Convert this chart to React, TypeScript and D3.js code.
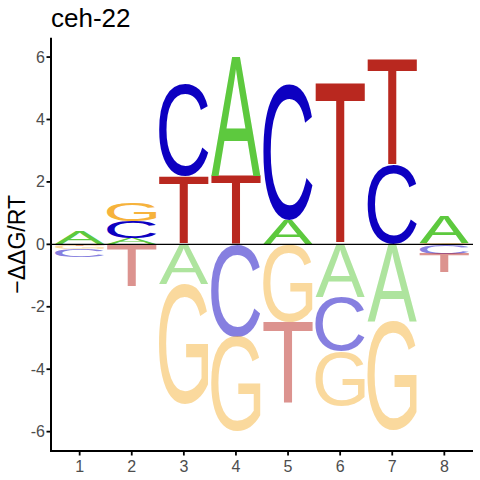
import React, { useMemo } from "react";
import * as d3 from "d3";

// energy logo for ceh-22
const positions = [1, 2, 3, 4, 5, 6, 7, 8];
const bases = ["A", "C", "G", "T"];
const energyA = [0.42, 0.2, -1.27, 3.82, 0.77, -1.69, -2.46, 0.85];
const energyC = [-0.25, 0.55, 2.95, -2.97, 4.36, -1.73, 2.53, -0.3];
const energyG = [-0.11, 0.6, -3.85, -3.03, -2.5, -1.74, -3.5, 0.05];
const energyT = [-0.04, -1.34, 2.18, 2.2, -2.63, 5.17, 3.43, -0.6];
const yTicks = [-6, -4, -2, 0, 2, 4, 6];
const title = "ceh-22";
const yLabel = "\u2212\u0394\u0394G/RT";

const baseColors: Record<string, string> = {
  A: "#5DC93E",
  C: "#0D00C1",
  G: "#F6B33C",
  T: "#B9281F",
};

const glyphFont = "Liberation Sans";
const glyphWeight = 400;

const measureGlyph = (ch: string) => {
  const ctx = document.createElement("canvas").getContext("2d")!;
  ctx.font = `${glyphWeight} 100px "${glyphFont}"`;
  const m = ctx.measureText(ch);
  return {
    left: -m.actualBoundingBoxLeft,
    right: m.actualBoundingBoxRight,
    top: -m.actualBoundingBoxAscent,
    bottom: m.actualBoundingBoxDescent,
  };
};

const App = () => {
  const width = 480;
  const height = 480;
  const plotLeft = 51;
  const plotRight = 473;
  const plotTop = 37.7;
  const plotBottom = 451;
  const colWidth = 0.95;

  const xScale = d3.scaleLinear().domain([0.45, 8.55]).range([plotLeft, plotRight]);
  const yScale = d3.scaleLinear().domain([-6.62, 6.62]).range([plotBottom, plotTop]);

  const glyphs = useMemo(() => {
    const out: Record<string, ReturnType<typeof measureGlyph>> = {};
    bases.forEach((b) => (out[b] = measureGlyph(b)));
    return out;
  }, []);

  const energies: Record<string, number[]> = { A: energyA, C: energyC, G: energyG, T: energyT };

  // stack letters: positives upward, negatives downward, smallest magnitude nearest zero
  const letters = positions.flatMap((pos, i) => {
    const vals = bases.map((b) => ({ base: b, v: energies[b][i] }));
    const up = vals.filter((d) => d.v > 0).sort((a, b) => a.v - b.v);
    const down = vals.filter((d) => d.v < 0).sort((a, b) => b.v - a.v);
    const marks: { pos: number; base: string; y0: number; y1: number; neg: boolean }[] = [];
    let acc = 0;
    up.forEach((d) => {
      marks.push({ pos, base: d.base, y0: acc, y1: acc + d.v, neg: false });
      acc += d.v;
    });
    acc = 0;
    down.forEach((d) => {
      marks.push({ pos, base: d.base, y0: acc + d.v, y1: acc, neg: true });
      acc += d.v;
    });
    return marks;
  });

  return (
    <svg
      height={height}
      style={{ position: "absolute", left: 0, top: 0, background: "#fff" }}
      viewBox={`0 0 ${width} ${height}`}
      width={width}
    >
      <rect fill="#fff" height={height} width={width} />
      <text
        fill="#000"
        fontFamily="Liberation Sans, Arial, sans-serif"
        fontSize={26}
        x={plotLeft}
        y={26.7}
      >
        {title}
      </text>

      {letters.map((d, k) => {
        const g = glyphs[d.base];
        const x0 = xScale(d.pos - colWidth / 2);
        const x1 = xScale(d.pos + colWidth / 2);
        const yTop = yScale(d.y1);
        const yBot = yScale(d.y0);
        const sx = (x1 - x0) / (g.right - g.left);
        const sy = (yBot - yTop) / (g.bottom - g.top);
        return (
          <text
            key={k}
            fill={baseColors[d.base]}
            fillOpacity={d.neg ? 0.5 : 1}
            fontFamily={glyphFont}
            fontSize={100}
            fontWeight={glyphWeight}
            transform={`translate(${x0},${yTop}) scale(${sx},${sy}) translate(${-g.left},${-g.top})`}
          >
            {d.base}
          </text>
        );
      })}

      {/* zero line */}
      <line stroke="#000" strokeWidth={1.1} x1={plotLeft} x2={plotRight} y1={yScale(0)} y2={yScale(0)} />

      {/* axes */}
      <g fontFamily="Liberation Sans, Arial, sans-serif" fontSize={16} fill="#4D4D4D">
        <line stroke="#000" strokeWidth={2} x1={plotLeft} x2={plotLeft} y1={plotTop} y2={plotBottom + 1} />
        <line stroke="#000" strokeWidth={2} x1={plotLeft - 1} x2={plotRight} y1={plotBottom} y2={plotBottom} />
        {yTicks.map((t) => (
          <g key={`y-${t}`}>
            <line stroke="#000" strokeWidth={1.8} x1={plotLeft - 4.5} x2={plotLeft} y1={yScale(t)} y2={yScale(t)} />
            <text dominantBaseline="central" textAnchor="end" x={plotLeft - 6} y={yScale(t)}>
              {t}
            </text>
          </g>
        ))}
        {positions.map((p) => (
          <g key={`x-${p}`}>
            <line stroke="#000" strokeWidth={1.8} x1={xScale(p)} x2={xScale(p)} y1={plotBottom} y2={plotBottom + 4.5} />
            <text textAnchor="middle" x={xScale(p)} y={471.5}>
              {p}
            </text>
          </g>
        ))}
      </g>

      <text
        fill="#000"
        fontFamily="Liberation Sans, Arial, sans-serif"
        fontSize={23}
        textAnchor="middle"
        transform={`translate(${25},${(plotTop + plotBottom) / 2}) rotate(-90)`}
      >
        {yLabel}
      </text>
    </svg>
  );
};

export default App;
